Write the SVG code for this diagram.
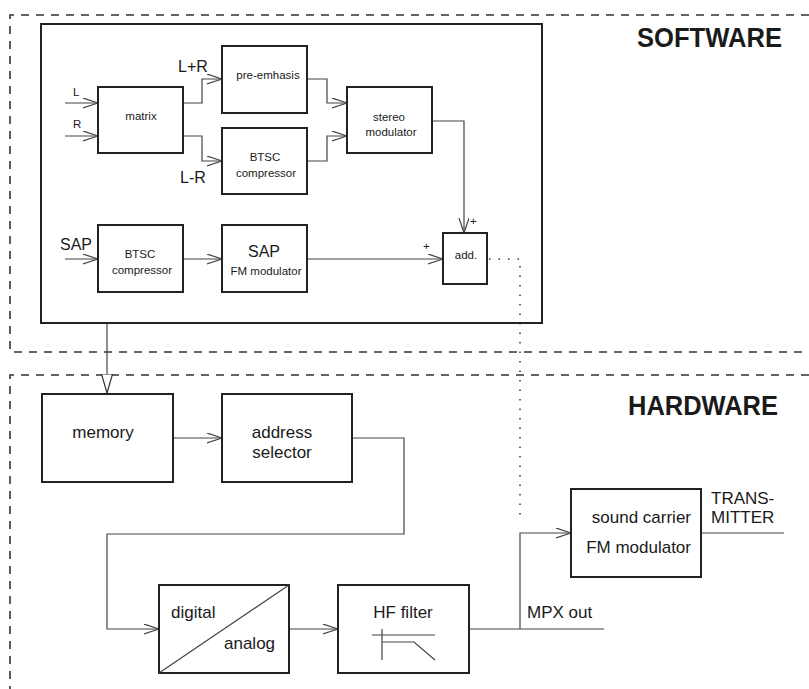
<svg xmlns="http://www.w3.org/2000/svg" width="809" height="689" viewBox="0 0 809 689">
<style>
.bx{fill:#fff;stroke:#222;stroke-width:2}
.ln{fill:none;stroke:#444;stroke-width:1.2}
.dash{fill:none;stroke:#333;stroke-width:1.6;stroke-dasharray:8 7}
.dot{fill:none;stroke:#333;stroke-width:1.5;stroke-dasharray:1.5 8}
text{font-family:"Liberation Sans",Arial,sans-serif;fill:#1a1a1a}
.s{font-size:11.5px}
.m{font-size:16px}
.l{font-size:17px}
.big{font-size:27px;font-weight:bold}
</style>
<defs>
<marker id="a" markerUnits="userSpaceOnUse" markerWidth="16" markerHeight="12" refX="15" refY="5" orient="auto">
<path d="M0,0 L15,5 L0,10" fill="none" stroke="#444" stroke-width="1.2"/>
</marker>
<marker id="t" markerUnits="userSpaceOnUse" markerWidth="22" markerHeight="12" refX="19" refY="5.5" orient="auto">
<path d="M0,0 L19,5.5 L0,11 Z" fill="#fff" stroke="#333" stroke-width="1.2"/>
</marker>
</defs>

<g id="regions">
<path class="dash" d="M809,15 H10 V352 H809"/>
<path class="dash" d="M809,375 H10 V689"/>
<text class="big" x="637" y="47" textLength="145" lengthAdjust="spacingAndGlyphs">SOFTWARE</text>
<text class="big" x="628" y="415" textLength="150" lengthAdjust="spacingAndGlyphs">HARDWARE</text>
</g>

<g id="software-block"><rect class="bx" x="41" y="24" width="501" height="299"/></g>

<g id="connectors">
<path class="ln" d="M65,103 H98" marker-end="url(#a)"/>
<path class="ln" d="M65,136 H98" marker-end="url(#a)"/>
<path class="ln" d="M183,103 H202 V79 H222" marker-end="url(#a)"/>
<path class="ln" d="M183,136 H202 V161 H222" marker-end="url(#a)"/>
<path class="ln" d="M307,79 H327 V103 H347" marker-end="url(#a)"/>
<path class="ln" d="M307,161 H327 V136 H347" marker-end="url(#a)"/>
<path class="ln" d="M432,121 H464 V233" marker-end="url(#a)"/>
<path class="ln" d="M65,259 H98" marker-end="url(#a)"/>
<path class="ln" d="M183,259 H222" marker-end="url(#a)"/>
<path class="ln" d="M307,259 H443" marker-end="url(#a)"/>
<path class="dot" d="M489,259 H520 V521"/>
<path class="ln" d="M107,323 V393" marker-end="url(#t)"/>
<path class="ln" d="M173,438 H222" marker-end="url(#a)"/>
<path class="ln" d="M352,438 H404 V534 H107 V629 H159" marker-end="url(#a)"/>
<path class="ln" d="M289,629 H338" marker-end="url(#a)"/>
<path class="ln" d="M469,629 H604"/>
<path class="ln" d="M520,629 V533 H571" marker-end="url(#a)"/>
<path class="ln" d="M701,533 H784"/>
</g>

<g id="labels">
<text class="s" x="73" y="96">L</text>
<text class="s" x="73" y="128">R</text>
<text class="m" x="178" y="72">L+R</text>
<text class="m" x="180" y="183">L-R</text>
<text class="m" x="60" y="250">SAP</text>
<text class="s" x="470" y="225">+</text>
<text class="s" x="423" y="250">+</text>
<text class="l" x="527" y="618">MPX out</text>
<text class="l" x="711" y="504">TRANS-</text>
<text class="l" x="711" y="523">MITTER</text>
</g>

<g id="matrix"><rect class="bx" x="98" y="87" width="85" height="66"/><text class="s" x="141" y="120" text-anchor="middle">matrix</text></g>
<g id="pre-emphasis"><rect class="bx" x="222" y="46" width="85" height="67"/><text class="s" x="268" y="79" text-anchor="middle">pre-emhasis</text></g>
<g id="btsc-1"><rect class="bx" x="222" y="128" width="85" height="66"/><text class="s" x="265" y="161" text-anchor="middle">BTSC</text><text class="s" x="266" y="177" text-anchor="middle">compressor</text></g>
<g id="stereo-modulator"><rect class="bx" x="347" y="87" width="85" height="66"/><text class="s" x="389" y="121" text-anchor="middle">stereo</text><text class="s" x="391" y="136" text-anchor="middle">modulator</text></g>
<g id="btsc-2"><rect class="bx" x="98" y="225" width="85" height="67"/><text class="s" x="140" y="258" text-anchor="middle">BTSC</text><text class="s" x="142" y="274" text-anchor="middle">compressor</text></g>
<g id="sap-fm"><rect class="bx" x="222" y="225" width="85" height="67"/><text class="m" x="264" y="257" text-anchor="middle">SAP</text><text class="s" x="266" y="275" text-anchor="middle">FM modulator</text></g>
<g id="add"><rect class="bx" x="443" y="233" width="44" height="51"/><text class="s" x="466" y="259" text-anchor="middle">add.</text></g>

<g id="memory"><rect class="bx" x="42" y="394" width="131" height="88"/><text class="l" x="103" y="438" text-anchor="middle">memory</text></g>
<g id="address-selector"><rect class="bx" x="222" y="394" width="130" height="88"/><text class="l" x="282" y="438" text-anchor="middle">address</text><text class="l" x="282" y="458" text-anchor="middle">selector</text></g>
<g id="da-converter"><rect class="bx" x="159" y="585" width="130" height="88"/><path class="ln" d="M159,673 L289,585"/><text class="l" x="171" y="618">digital</text><text class="l" x="224" y="649">analog</text></g>
<g id="hf-filter"><rect class="bx" x="338" y="585" width="131" height="88"/><text class="l" x="403" y="618" text-anchor="middle">HF filter</text><path class="ln" d="M372,635 H435 M382,629 V660 M382,642 H414 L435,660"/></g>
<g id="sound-carrier"><rect class="bx" x="571" y="489" width="130" height="88"/><text class="l" x="691" y="523" text-anchor="end">sound carrier</text><text class="l" x="691" y="553" text-anchor="end">FM modulator</text></g>
</svg>
